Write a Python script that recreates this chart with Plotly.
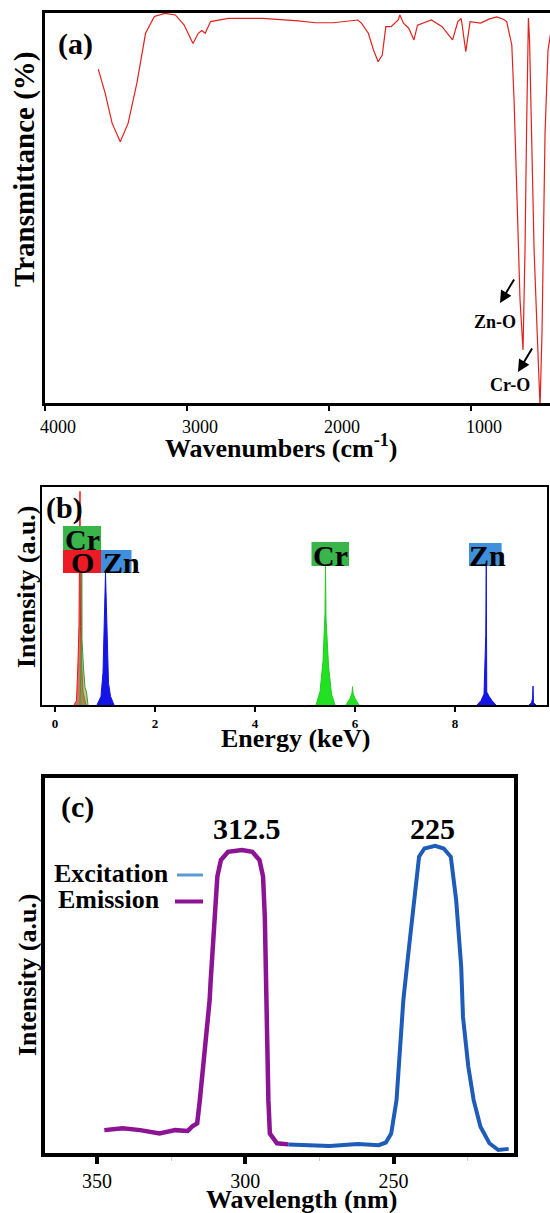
import plotly.graph_objects as go

W, H = 550, 1213
SERIF = "Liberation Serif"

# ---------------- (a) FTIR ----------------
ftir_wn = [3625, 3576, 3527, 3470, 3415, 3353, 3292, 3230, 3156, 3082, 3020, 2958,
           2921, 2896, 2872, 2834, 2711, 2465, 2218, 2094, 1970, 1896, 1846, 1797,
           1772, 1723, 1687, 1654, 1625, 1600, 1563, 1538, 1513, 1501, 1476, 1439,
           1402, 1377, 1279, 1204, 1130, 1093, 1069, 1037, 1007, 933, 870, 819,
           773, 749, 713, 697, 676, 655, 634, 620, 609, 602, 596, 588, 574, 556,
           535, 514, 500, 479, 458, 430]
ftir_T = [85.6, 79.4, 71.7, 67.0, 71.7, 82.0, 94.8, 99.1, 99.9, 99.5, 96.9, 92.2,
          94.8, 95.5, 94.8, 97.8, 98.6, 98.6, 98.0, 97.5, 97.5, 97.8, 98.0, 98.2,
          97.4, 94.8, 90.5, 87.5, 89.2, 96.5, 96.5, 97.4, 98.2, 99.5, 97.4, 96.1,
          93.1, 96.9, 98.2, 96.5, 93.1, 97.8, 98.6, 90.1, 97.8, 97.4, 98.5, 99.0,
          98.4, 97.8, 91.8, 77.7, 52.0, 26.4, 13.6, 39.2, 70.0, 93.0, 98.7, 93.0, 70.0, 39.2,
          18.7, -1.0, 18.7, 69.2, 90.5, 97.0]
ftir_ticks = [4000, 3000, 2000, 1000]

# ---------------- (b) EDS ----------------
eds_O_E = [0.38, 0.43, 0.46, 0.48, 0.50, 0.505, 0.51, 0.53, 0.56, 0.62]
eds_O_I = [0, 2, 20, 37, 98, 40, 36, 20, 6, 0]
eds_CrL_E = [0.50, 0.53, 0.535, 0.54, 0.57, 0.60, 0.63, 0.64, 0.66]
eds_CrL_I = [0, 30, 71, 30, 17, 8, 6, 2, 0]
eds_ZnL_E = [0.84, 0.88, 0.92, 0.96, 0.99, 1.01, 1.02, 1.04, 1.07, 1.11, 1.15, 1.18]
eds_ZnL_I = [0, 2, 4, 15, 45, 60.6, 52, 30, 10, 4, 2, 0]
eds_CrKa_E = [5.22, 5.30, 5.36, 5.40, 5.41, 5.42, 5.47, 5.53, 5.60]
eds_CrKa_I = [0, 6, 20, 42, 64, 40, 18, 5, 0]
eds_CrKb_E = [5.82, 5.90, 5.94, 5.95, 5.96, 6.00, 6.08]
eds_CrKb_I = [0, 3, 5.5, 8.4, 5.5, 3, 0]
eds_ZnKa_E = [8.44, 8.52, 8.58, 8.615, 8.625, 8.635, 8.68, 8.74, 8.82]
eds_ZnKa_I = [0, 2, 5, 32, 64, 6, 4, 2, 0]
eds_ZnKb_E = [9.48, 9.53, 9.55, 9.56, 9.57, 9.62]
eds_ZnKb_I = [0, 1, 3, 8.7, 1, 0]
eds_ticks = [0, 2, 4, 6, 8]

# ---------------- (c) PL ----------------
em_wl = [347.5, 341.3, 335.4, 328.9, 323.6, 319.4, 317.7, 316.2, 315.3, 314.1, 312.9,
         312.0, 311.7, 310.5, 309.4, 308.2, 305.8, 301.1, 297.6, 295.2, 294.0, 293.4,
         293.0, 292.8, 292.2, 291.7, 289.3, 285.5]
em_int = [6.1, 6.6, 6.1, 5.2, 6.1, 5.9, 7.2, 7.9, 14.1, 23.0, 33.7,
          40.8, 45.3, 63.0, 73.7, 78.1, 80.3, 80.8, 80.3, 78.1, 73.7, 63.0,
          45.3, 31.9, 14.1, 5.2, 2.6, 2.3]
ex_wl = [285.5, 279.8, 271.5, 262.0, 255.0, 252.6, 250.8, 249.0, 247.9, 246.7, 244.9,
         243.1, 241.4, 239.6, 236.0, 233.1, 230.7, 228.9, 227.2, 226.6, 224.8, 223.0,
         220.7, 217.7, 214.7, 211.2]
ex_int = [2.3, 2.1, 1.9, 2.4, 2.1, 2.8, 5.2, 14.1, 27.5, 40.8, 54.1,
          67.5, 79.0, 81.2, 81.9, 81.2, 79.0, 67.5, 49.7, 36.3, 23.0, 14.1,
          7.0, 2.6, 0.8, 1.1]
pl_ticks = [350, 300, 250]
pl_minor = [325, 275, 225]


def px(x):
    return x / W


def py(y):
    return 1 - y / H


fig = go.Figure()

# (a)
fig.add_trace(go.Scatter(x=ftir_wn, y=ftir_T, mode="lines",
                         line=dict(color="#e3211c", width=1.2),
                         xaxis="x", yaxis="y", showlegend=False))

# (b)
def eds(E, I, line, fill, w=1):
    fig.add_trace(go.Scatter(x=E, y=I, mode="lines", fill="tozeroy",
                             fillcolor=fill, line=dict(color=line, width=w),
                             xaxis="x2", yaxis="y2", showlegend=False))

eds(eds_O_E, eds_O_I, "#ff1010", "rgba(190,95,70,0.85)")
eds(eds_CrL_E, eds_CrL_I, "#3a9a3a", "rgba(120,160,60,0.55)")
eds(eds_ZnL_E, eds_ZnL_I, "#1414e6", "#1414e6")
eds(eds_CrKa_E, eds_CrKa_I, "#22cc22", "#22e022")
eds(eds_CrKb_E, eds_CrKb_I, "#22cc22", "#22e022")
eds(eds_ZnKa_E, eds_ZnKa_I, "#1414e6", "#1414e6")
eds(eds_ZnKb_E, eds_ZnKb_I, "#1414e6", "#1414e6")

# (c)
fig.add_trace(go.Scatter(x=em_wl, y=em_int, mode="lines",
                         line=dict(color="#8b1394", width=4.5),
                         xaxis="x3", yaxis="y3", showlegend=False))
fig.add_trace(go.Scatter(x=ex_wl, y=ex_int, mode="lines",
                         line=dict(color="#1d5cb8", width=4),
                         xaxis="x3", yaxis="y3", showlegend=False))

tickfont_a = dict(family=SERIF, size=18, color="black")
common = dict(showgrid=False, zeroline=False, automargin=False, fixedrange=True)
fig.update_layout(
    template="none",
    width=W, height=H, margin=dict(l=0, r=0, t=0, b=0, pad=0, autoexpand=False),
    autosize=False,
    paper_bgcolor="white", plot_bgcolor="white",
    xaxis=dict(domain=[px(45), 1.0], range=[4000, 444], autorange=False,
               tickvals=ftir_ticks, ticks="outside", ticklen=5, tickwidth=2,
               tickcolor="black", tickfont=tickfont_a, ticklabelshift=-13,
               showline=True, linecolor="black", linewidth=3, mirror=True,
               anchor="y", **common),
    yaxis=dict(domain=[py(403), py(13)], range=[0, 100], showticklabels=False,
               ticks="", showline=True, linecolor="black", linewidth=3,
               anchor="x", **common),
    xaxis2=dict(domain=[px(42), px(546.5)], range=[-0.26, 9.83], autorange=False,
                tickvals=eds_ticks, ticks="outside", ticklen=5, tickwidth=2,
                tickcolor="black",
                tickfont=dict(family=SERIF, size=13, color="black", weight="bold"),
                showline=True, linecolor="black", linewidth=2, mirror=True,
                anchor="y2", **common),
    yaxis2=dict(domain=[py(705), py(487)], range=[0, 100], showticklabels=False,
                ticks="", showline=True, linecolor="black", linewidth=2, mirror=True,
                anchor="x2", **common),
    xaxis3=dict(domain=[px(45), px(514)], range=[367.5, 209.4], autorange=False,
                tickvals=pl_ticks, ticks="outside", ticklen=7, tickwidth=4,
                tickcolor="black",
                minor=dict(tickvals=pl_minor, ticks="outside", ticklen=4,
                           tickwidth=1, tickcolor="#cccccc"),
                tickfont=dict(family=SERIF, size=20, color="black"),
                showline=True, linecolor="black", linewidth=4, mirror=True,
                anchor="y3", **common),
    yaxis3=dict(domain=[py(1153), py(778)], range=[0, 100], showticklabels=False,
                ticks="", showline=True, linecolor="black", linewidth=4, mirror=True,
                anchor="x3", **common),
)


def text(t, x, y, size, angle=0, bold=True):
    fig.add_annotation(text=t, x=px(x), y=py(y), xref="paper", yref="paper",
                       showarrow=False, textangle=angle, xanchor="center",
                       yanchor="middle",
                       font=dict(family=SERIF, size=size, color="black",
                                 weight="bold" if bold else "normal"))


def arrow(x0, y0, x1, y1):
    fig.add_annotation(text="", x=px(x1), y=py(y1), xref="paper", yref="paper",
                       ax=x0 - x1, ay=y0 - y1, showarrow=True, arrowhead=2,
                       arrowsize=1.2, arrowwidth=2, arrowcolor="black")


def box(x0, y0, x1, y1, color):
    fig.add_shape(type="rect", xref="paper", yref="paper", x0=px(x0), x1=px(x1),
                  y0=py(y1), y1=py(y0), fillcolor=color, line=dict(width=0),
                  layer="above")


# (a) texts
text("(a)", 75, 44, 30)
text("Transmittance (%)", 25, 170, 29, angle=-90)
text("Wavenumbers (cm<sup>-1</sup>)", 281, 447, 26)
text("Zn-O", 495, 322, 18)
text("Cr-O", 510, 385, 18)
arrow(515, 278, 500, 303)
arrow(533, 347, 518, 372)

# (b) texts
text("(b)", 64, 508, 30)
text("Intensity (a.u.)", 26, 587, 26, angle=-90)
text("Energy (keV)", 295, 738, 26)
box(63, 526, 101, 550, "#39b54a")
box(63, 550, 101, 573, "#ed1c24")
box(101, 550, 131.5, 573, "#3f8fdd")
box(311.5, 542, 349, 566, "#39b54a")
box(469, 543, 501.6, 566, "#3f8fdd")
text("Cr", 82, 539, 30)
text("O", 82, 562, 30)
text("Zn", 121, 562, 30)
text("Cr", 330, 555, 30)
text("Zn", 487, 555, 30)

# (c) texts
text("(c)", 77, 807, 30)
text("312.5", 246.5, 829, 30)
text("225", 432, 829, 30)
text("Excitation", 111, 873, 26)
text("Emission", 108.5, 900, 26)
fig.add_shape(type="line", xref="paper", yref="paper", x0=px(177), x1=px(203),
              y0=py(875), y1=py(875), line=dict(color="#5b9bd5", width=3))
fig.add_shape(type="line", xref="paper", yref="paper", x0=px(175), x1=px(203),
              y0=py(901.5), y1=py(901.5), line=dict(color="#8b1394", width=4))
text("Intensity (a.u.)", 27, 975, 26, angle=-90)
text("Wavelength (nm)", 301.6, 1199, 26)

fig.write_html("out.html", config={"displayModeBar": False},
               post_script="document.body.style.margin='0';"
                           "document.body.style.overflow='hidden';")
